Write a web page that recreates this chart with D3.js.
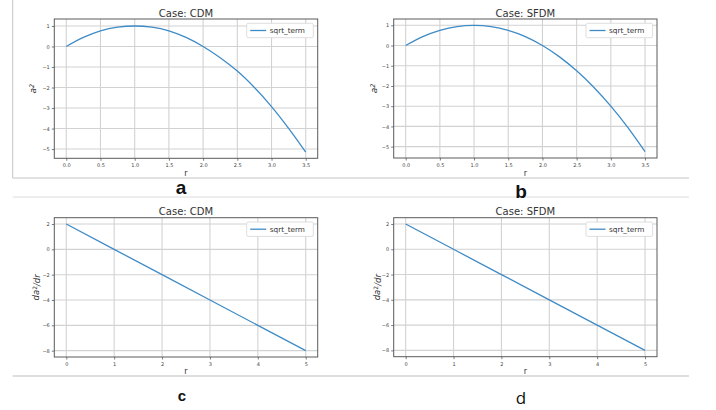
<!DOCTYPE html>
<html>
<head>
<meta charset="utf-8">
<script src="https://cdn.jsdelivr.net/npm/d3@7"></script>
<style>
  html, body { margin: 0; padding: 0; background: #fff; }
  svg { display: block; }
  .tick-label { font-family: "DejaVu Sans", sans-serif; font-size: 5px; fill: #444; }
  .title { font-family: "DejaVu Sans", sans-serif; font-size: 10px; fill: #333; }
  .axis-label { font-family: "DejaVu Sans", sans-serif; font-size: 8px; fill: #333; }
  .legend-text { font-family: "DejaVu Sans", sans-serif; font-size: 7.3px; fill: #333; }
</style>
</head>
<body>
<div id="chart"></div>
<script>
// values
const rCurve = [0, 0.25, 0.5, 0.75, 1.0, 1.25, 1.5, 1.75, 2.0, 2.25, 2.5, 2.75, 3.0, 3.25, 3.5];
const a2CDM = [0, 0.44, 0.76, 0.94, 1.0, 0.94, 0.76, 0.44, 0.0, -0.55, -1.2, -2.0, -2.93, -3.99, -5.15];
const a2SFDM = [0, 0.44, 0.75, 0.94, 1.0, 0.94, 0.75, 0.44, 0.0, -0.56, -1.25, -2.06, -3.0, -4.06, -5.25];

const rLine = [0, 1, 2, 3, 4, 5];
const da2CDM = [2, 0, -2, -4, -6, -8];
const da2SFDM = [2, 0, -2, -4, -6, -8];

const xTicksCurve = [0, 0.5, 1.0, 1.5, 2.0, 2.5, 3.0, 3.5];
const yTicksCurve = [1, 0, -1, -2, -3, -4, -5];
const xTicksLine = [0, 1, 2, 3, 4, 5];
const yTicksLine = [2, 0, -2, -4, -6, -8];

const seriesName = "sqrt_term";
const W = 716, H = 410;
const lineColor = "#3f8bc6";

const panels = [
  { title: "Case: CDM", ylab: "a2", x: rCurve, y: a2CDM, xTicks: xTicksCurve, yTicks: yTicksCurve,
    xFmt: d3.format(".1f"), box: [54.3, 317.7, 19, 158.3], xDom: [-0.175, 3.675], yDom: [-5.45, 1.34],
    letter: "a", letterPos: [181, 194.3], letterStyle: "bold-big", titleY: 17, xlabY: 176, ylabX: 33 },
  { title: "Case: SFDM", ylab: "a2", x: rCurve, y: a2SFDM, xTicks: xTicksCurve, yTicks: yTicksCurve,
    xFmt: d3.format(".1f"), box: [393.7, 657, 19, 158], xDom: [-0.175, 3.675], yDom: [-5.5625, 1.3125],
    letter: "b", letterPos: [521, 197.5], letterStyle: "bold-big", titleY: 17, xlabY: 176, ylabX: 374 },
  { title: "Case: CDM", ylab: "da2dr", x: rLine, y: da2CDM, xTicks: xTicksLine, yTicks: yTicksLine,
    xFmt: d3.format("d"), box: [54.3, 317.7, 217.7, 357], xDom: [-0.25, 5.25], yDom: [-8.5, 2.5],
    letter: "c", letterPos: [182, 401], letterStyle: "bold-small", titleY: 215, xlabY: 373.5, ylabX: 36 },
  { title: "Case: SFDM", ylab: "da2dr", x: rLine, y: da2SFDM, xTicks: xTicksLine, yTicks: yTicksLine,
    xFmt: d3.format("d"), box: [393.7, 657, 217.7, 356.7], xDom: [-0.25, 5.25], yDom: [-8.5, 2.5],
    letter: "d", letterPos: [521, 404.3], letterStyle: "regular", titleY: 215, xlabY: 373.5, ylabX: 377 }
];

const svg = d3.select("#chart").append("svg").attr("width", W).attr("height", H);
svg.append("rect").attr("width", W).attr("height", H).attr("fill", "#fff");

// separator lines of the figure layout
const sep = svg.append("g").attr("fill", "none");
sep.append("line").attr("x1", 12.7).attr("x2", 12.7).attr("y1", 0).attr("y2", 178)
  .attr("stroke", "#c4c4c4").attr("stroke-width", 1);
sep.append("line").attr("x1", 12.7).attr("x2", 689).attr("y1", 178).attr("y2", 178)
  .attr("stroke", "#c4c4c4").attr("stroke-width", 1);
sep.append("line").attr("x1", 12.7).attr("x2", 689).attr("y1", 197).attr("y2", 197)
  .attr("stroke", "#dcdcdc").attr("stroke-width", 1);
sep.append("line").attr("x1", 12.7).attr("x2", 689).attr("y1", 376).attr("y2", 376)
  .attr("stroke", "#bdbdbd").attr("stroke-width", 1);

panels.forEach((p) => {
  const [x0, x1, y0, y1] = p.box;
  const x = d3.scaleLinear().domain(p.xDom).range([x0, x1]);
  const y = d3.scaleLinear().domain(p.yDom).range([y1, y0]);
  const g = svg.append("g");

  // grid
  g.append("g").selectAll("line").data(p.xTicks).join("line")
    .attr("x1", (d) => x(d)).attr("x2", (d) => x(d)).attr("y1", y0).attr("y2", y1)
    .attr("stroke", "#d2d2d2").attr("stroke-width", 1.1);
  g.append("g").selectAll("line").data(p.yTicks).join("line")
    .attr("x1", x0).attr("x2", x1).attr("y1", (d) => y(d)).attr("y2", (d) => y(d))
    .attr("stroke", "#d2d2d2").attr("stroke-width", 1.1);

  // data line
  const line = d3.line()
    .x((d, i) => x(p.x[i]))
    .y((d) => y(d))
    .curve(p.x.length > 6 ? d3.curveCatmullRom : d3.curveLinear);
  g.append("path").datum(p.y).attr("d", line)
    .attr("fill", "none").attr("stroke", lineColor).attr("stroke-width", 1.3);

  // frame
  g.append("rect").attr("x", x0).attr("y", y0).attr("width", x1 - x0).attr("height", y1 - y0)
    .attr("fill", "none").attr("stroke", "#5a5a5a").attr("stroke-width", 1);

  // ticks
  const xa = d3.axisBottom(x).tickValues(p.xTicks).tickFormat(p.xFmt).tickSize(2.5).tickPadding(3);
  const ya = d3.axisLeft(y).tickValues(p.yTicks).tickFormat(d3.format("d")).tickSize(2.5).tickPadding(2);
  const gx = g.append("g").attr("transform", `translate(0,${y1})`).call(xa);
  const gy = g.append("g").attr("transform", `translate(${x0},0)`).call(ya);
  [gx, gy].forEach((ax) => {
    ax.select(".domain").remove();
    ax.selectAll(".tick line").attr("stroke", "#5a5a5a").attr("stroke-width", 0.8);
    ax.selectAll(".tick text").attr("class", "tick-label").attr("fill", null);
  });

  // title and axis labels
  g.append("text").attr("class", "title").attr("x", (x0 + x1) / 2).attr("y", p.titleY)
    .attr("text-anchor", "middle").text(p.title);
  g.append("text").attr("class", "axis-label").attr("x", (x0 + x1) / 2).attr("y", p.xlabY)
    .attr("text-anchor", "middle").text("r");

  const yl = g.append("text").attr("class", "axis-label")
    .attr("transform", `translate(${p.ylabX},${(y0 + y1) / 2}) rotate(-90)`)
    .attr("text-anchor", "middle").attr("dy", "0.35em");
  if (p.ylab === "a2") {
    yl.style("font-style", "italic").style("font-size", "9px");
    yl.append("tspan").text("a");
    yl.append("tspan").attr("dy", "-0.4em").style("font-size", "6.5px").text("2");
  } else {
    yl.style("font-style", "italic").style("font-size", "8.5px");
    yl.append("tspan").text("da");
    yl.append("tspan").attr("dy", "-0.4em").style("font-size", "6px").style("font-style", "normal").text("2");
    yl.append("tspan").attr("dy", "0.4em").text("/dr");
  }

  // legend
  const lw = 66.6, lh = 14.4;
  const lx = x1 - 4.4 - lw, ly = y0 + 4.3;
  const lg = g.append("g").attr("transform", `translate(${lx},${ly})`);
  lg.append("rect").attr("width", lw).attr("height", lh).attr("rx", 1.5)
    .attr("fill", "#fff").attr("stroke", "#d6d6d6").attr("stroke-width", 0.8);
  lg.append("line").attr("x1", 3.5).attr("x2", 19.5).attr("y1", lh / 2).attr("y2", lh / 2)
    .attr("stroke", lineColor).attr("stroke-width", 1.3);
  lg.append("text").attr("class", "legend-text").attr("x", 23).attr("y", lh / 2 + 2.6).text(seriesName);

  // panel letter
  const lt = svg.append("text").attr("x", p.letterPos[0]).attr("y", p.letterPos[1])
    .attr("text-anchor", "middle").attr("fill", "#111").text(p.letter);
  if (p.letterStyle === "bold-big") {
    lt.style("font-family", "'Liberation Sans', Arial, sans-serif").style("font-weight", "bold").style("font-size", "19px");
  } else if (p.letterStyle === "bold-small") {
    lt.style("font-family", "'Liberation Sans', Arial, sans-serif").style("font-weight", "bold").style("font-size", "15px");
  } else {
    lt.style("font-family", "'Open Sans', sans-serif").style("font-weight", "normal").style("font-size", "17px");
  }
});
</script>
</body>
</html>
